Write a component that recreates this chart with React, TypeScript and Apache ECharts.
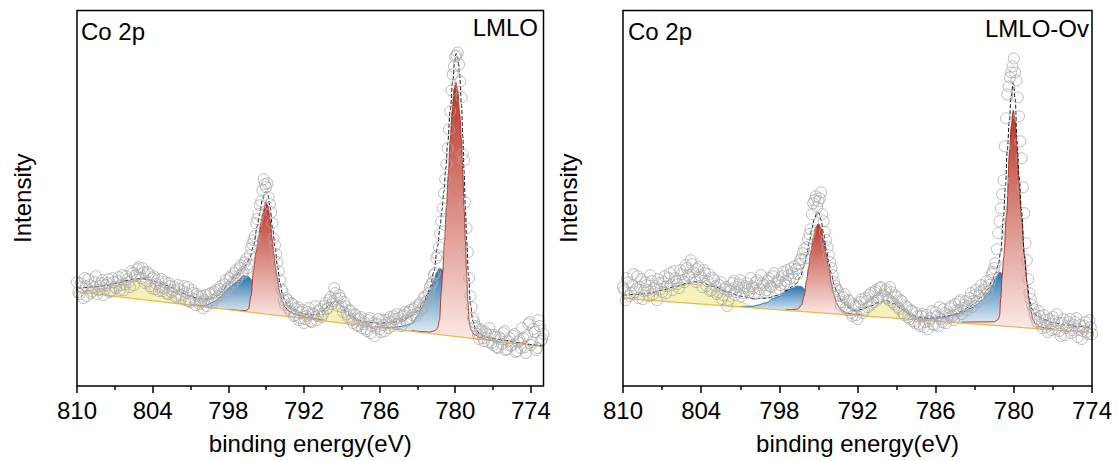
import React, { useEffect, useRef } from "react";
import * as echarts from "echarts";

type Pt = [number, number];

const FONT = '"Liberation Sans", Arial, Helvetica, sans-serif';

const xTickValues = [810, 804, 798, 792, 786, 780, 774];
const xMinorTickValues = [807, 801, 795, 789, 783, 777];
const xAxisTitle = "binding energy(eV)";
const yAxisTitle = "Intensity";

// ---------------- LMLO ----------------
const lmloTitle = "LMLO";
const lmloRange: Pt = [773, 810];
const lmloScanStep = 0.2;
// measured points at 810.0, 809.8, ... 773.0 eV
const lmloScanStart = 810;
const lmloCounts = [
  104, 92, 99, 108, 90, 101, 95, 104, 92, 100,
  106, 97, 103, 94, 108, 99, 105, 96, 111, 102,
  107, 99, 113, 110, 117, 112, 118, 103, 114, 100,
  108, 97, 106, 99, 95, 104, 92, 100, 96, 89,
  101, 91, 95, 86, 99, 84, 93, 81, 90, 84,
  78, 91, 84, 93, 86, 96, 90, 100, 94, 106,
  99, 110, 104, 116, 110, 121, 114, 127, 122, 138,
  146, 163, 172, 185, 207, 199, 189, 174, 148, 132,
  115, 97, 86, 88, 78, 83, 70, 77, 66, 74,
  63, 70, 78, 64, 72, 66, 75, 69, 80, 77,
  86, 82, 98, 87, 91, 79, 84, 72, 76, 66,
  72, 61, 67, 58, 64, 55, 68, 60, 50, 62,
  57, 66, 55, 63, 69, 60, 67, 72, 63, 70,
  74, 66, 76, 71, 79, 73, 83, 78, 90, 86,
  99, 104, 113, 131, 152, 178, 207, 238, 275, 312,
  330, 334, 305, 232, 184, 134, 90, 68, 60, 52,
  57, 48, 54, 44, 51, 41, 49, 38, 47, 53,
  36, 45, 40, 50, 34, 44, 38, 48, 33, 62,
  41, 57, 36, 66, 45, 52,
];
// measured points at 809.9, 809.7, ... 773.1 eV
const lmloScanStartMid = 809.9;
const lmloCountsMid = [
  94, 103, 88, 100, 107, 93, 99, 110, 96, 103,
  91, 101, 107, 95, 104, 98, 109, 101, 96, 110,
  104, 115, 101, 111, 119, 108, 114, 105, 112, 98,
  110, 102, 95, 107, 98, 93, 103, 94, 99, 90,
  97, 88, 100, 93, 85, 96, 87, 92, 82, 90,
  86, 80, 92, 83, 94, 88, 97, 91, 102, 97,
  108, 101, 113, 107, 118, 112, 124, 118, 131, 142,
  150, 167, 181, 196, 202, 203, 182, 163, 141, 124,
  106, 95, 81, 86, 75, 82, 71, 79, 68, 76,
  67, 74, 65, 73, 80, 70, 77, 72, 83, 78,
  89, 85, 93, 80, 88, 74, 80, 69, 75, 63,
  71, 60, 69, 62, 57, 66, 53, 63, 58, 67,
  54, 61, 66, 58, 64, 70, 62, 68, 60, 71,
  65, 74, 68, 77, 70, 81, 76, 88, 84, 93,
  102, 111, 128, 139, 165, 193, 222, 257, 296, 320,
  331, 322, 289, 226, 158, 108, 79, 64, 58, 47,
  55, 45, 52, 58, 43, 51, 39, 49, 42, 55,
  37, 48, 41, 52, 35, 46, 58, 39, 51, 64,
  44, 54, 38, 60, 47,
];
const lmloBackground: Pt[] = [[810, 94.3], [773, 39.3]];
const lmloEnvelope: Pt[] = [
  [810, 98], [809.5, 98.5], [809, 99], [808, 100], [807, 102.5], [806, 105.5], [805.5, 107], [805, 107.5],
  [804.5, 107], [804, 105.5], [803.5, 103.5], [803, 101], [802.5, 98.5], [802, 95.5], [801.5, 92.5], [801, 90],
  [800.5, 88], [800, 87], [799.5, 87], [799, 89], [798.5, 94.5], [798, 102], [797.5, 109.5], [797, 116],
  [796.6, 121], [796.3, 128], [796, 140], [795.7, 160], [795.5, 173], [795.3, 186], [795.1, 194], [795, 194.5],
  [794.85, 191], [794.7, 180], [794.5, 160], [794.3, 140], [794.1, 120], [793.9, 103], [793.7, 92], [793.5, 85],
  [793.2, 80], [792.8, 76.5], [792.3, 73.5], [791.8, 71.5], [791.2, 71], [790.8, 72.5], [790.4, 76], [790, 81],
  [789.6, 84.5], [789.3, 84], [789, 80], [788.6, 74], [788.2, 69], [787.6, 65.5], [787, 64], [786, 63],
  [785, 63.5], [784.5, 65], [784, 67], [783.5, 70], [783, 75], [782.5, 85], [782.2, 92], [782, 99],
  [781.7, 114], [781.4, 140], [781.2, 160], [781.06, 176], [780.9, 195], [780.75, 218], [780.6, 243], [780.4, 276],
  [780.2, 305], [780.05, 325], [779.93, 333], [779.8, 328], [779.66, 313], [779.5, 281], [779.4, 250], [779.3, 215],
  [779.2, 180], [779.1, 146], [778.95, 112], [778.8, 82], [778.6, 65], [778.4, 57], [778, 51.5], [777.5, 49],
  [777, 47.5], [776, 45.5], [775, 43.5], [774, 41.5], [773, 40],
];
const lmloSatelliteHigh: Pt[] = [
  [810, 95.2], [809, 95.4], [808, 97.4], [807, 100.9], [806, 104.4], [805, 104.9], [804, 101.4],
  [803, 95.0], [802, 88.5], [801, 83.5], [800, 80.3], [799, 78.2],
];
const lmloSatelliteLow: Pt[] = [
  [791.2, 66.5], [790.8, 67.5], [790.5, 70], [790.2, 75], [789.9, 79], [789.6, 81.5], [789.4, 81.3],
  [789.1, 77.5], [788.8, 72.5], [788.5, 67.5], [788.2, 64.3], [787.8, 62.2], [787.3, 60.9],
];
const lmloShoulderHigh: Pt[] = [
  [801, 81.4], [800, 80.6], [799.7, 81], [799.2, 84], [798.6, 89.3], [798.2, 95], [797.85, 99.3],
  [797.5, 103], [797.2, 106], [796.8, 110.5], [796.5, 110], [796, 105], [795.5, 96], [795, 84],
  [794.5, 77], [794, 72], [793.5, 70],
];
const lmloMainHigh: Pt[] = [
  [798, 76.9], [797, 75.7], [796.6, 75.5], [796.4, 77], [796.2, 90], [796, 116], [795.8, 134], [795.6, 149],
  [795.4, 164], [795.25, 173], [795.1, 181], [795, 184], [794.85, 180], [794.67, 166], [794.5, 146],
  [794.4, 133], [794.25, 118], [794.14, 109], [793.9, 93], [793.7, 85], [793.5, 79], [793.2, 75],
  [792.8, 72.7], [792.3, 70.5], [791.5, 68], [790.5, 65.8],
];
const lmloShoulderLow: Pt[] = [
  [786.5, 59.6], [785.5, 58.6], [784.8, 58.8], [784.2, 60], [783.8, 61.3], [783.4, 63], [783, 70],
  [782.65, 78.5], [782.3, 87], [781.98, 96], [781.7, 106], [781.45, 114], [781.3, 117.5], [781.1, 117],
  [780.8, 111], [780.5, 101], [780.2, 89], [779.8, 75], [779.4, 63], [779, 55.5], [778.6, 51], [778.2, 48],
];
const lmloMainLow: Pt[] = [
  [783.5, 55.5], [782.5, 54.5], [782, 54], [781.6, 55.5], [781.4, 58], [781.25, 66], [781.1, 95], [781, 113],
  [780.85, 145], [780.7, 179], [780.55, 212], [780.4, 246], [780.25, 275], [780.1, 297], [779.95, 304],
  [779.8, 296], [779.65, 273], [779.5, 246], [779.4, 213], [779.3, 179], [779.2, 146], [779.1, 113],
  [779, 85], [778.9, 65], [778.75, 56], [778.5, 51.5], [778, 48.5], [777.5, 46.5], [777, 45.5],
];

// ---------------- LMLO-Ov ----------------
const ovTitle = "LMLO-Ov";
const ovRange: Pt = [774, 810];
const ovScanStep = 0.2;
// measured points at 810.0, 809.8, ... 774.0 eV
const ovScanStart = 810;
const ovCounts = [
  99, 86, 104, 93, 112, 97, 88, 107, 95, 101,
  90, 105, 98, 86, 103, 94, 110, 100, 113, 96,
  108, 102, 116, 106, 121, 111, 126, 114, 104, 119,
  109, 116, 100, 112, 96, 106, 92, 101, 87, 97,
  80, 95, 103, 91, 99, 106, 93, 100, 96, 108,
  98, 104, 93, 111, 101, 96, 108, 99, 113, 104,
  97, 110, 102, 116, 107, 113, 120, 112, 126, 133,
  128, 147, 157, 183, 190, 185, 194, 165, 146, 131,
  118, 104, 97, 90, 84, 92, 76, 85, 70, 80,
  67, 84, 73, 88, 79, 93, 84, 96, 88, 99,
  91, 97, 86, 94, 82, 89, 77, 85, 71, 79,
  67, 75, 63, 70, 60, 72, 64, 57, 68, 62,
  74, 60, 67, 77, 63, 71, 80, 66, 76, 84,
  72, 81, 76, 88, 79, 91, 84, 94, 88, 99,
  94, 106, 114, 123, 153, 178, 206, 268, 300, 314,
  328, 306, 270, 228, 173, 126, 93, 81, 72, 64,
  70, 58, 66, 54, 62, 69, 57, 63, 50, 67,
  58, 64, 53, 61, 68, 56, 47, 60, 54, 66,
  52,
];
// measured points at 809.9, 809.7, ... 774.1 eV
const ovScanStartMid = 809.9;
const ovCountsMid = [
  96, 108, 90, 101, 94, 110, 99, 87, 104, 96,
  111, 92, 100, 107, 97, 104, 93, 108, 101, 115,
  105, 98, 112, 104, 118, 109, 122, 107, 117, 111,
  99, 113, 105, 95, 108, 100, 94, 104, 91, 99,
  86, 97, 105, 94, 102, 90, 98, 103, 94, 100,
  92, 106, 97, 103, 94, 105, 100, 110, 95, 106,
  101, 114, 105, 111, 118, 108, 117, 122, 127, 137,
  139, 152, 172, 186, 179, 188, 172, 154, 139, 124,
  111, 100, 95, 81, 89, 78, 86, 73, 82, 71,
  80, 87, 76, 85, 91, 82, 94, 86, 98, 90,
  95, 88, 99, 84, 91, 79, 86, 73, 80, 69,
  76, 65, 73, 62, 70, 59, 71, 65, 75, 61,
  70, 79, 64, 73, 68, 78, 70, 82, 75, 86,
  78, 85, 80, 93, 85, 96, 90, 101, 96, 105,
  101, 112, 118, 137, 165, 192, 240, 292, 309, 320,
  314, 289, 245, 199, 143, 107, 87, 77, 68, 75,
  62, 71, 59, 67, 56, 65, 72, 55, 63, 51,
  60, 67, 56, 64, 49, 61, 55, 64, 52, 59,
];
const ovBackground: Pt[] = [[810, 87.7], [774, 53.5]];
const ovEnvelope: Pt[] = [
  [810, 91], [809, 91.5], [808, 93], [807, 96], [806, 99.5], [805, 103], [804.5, 104.3], [804, 103.5],
  [803, 99.5], [802, 94.5], [801, 90], [800, 87.5], [799, 88], [798, 91], [797.5, 95.5], [797, 99.5],
  [796.7, 102.5], [796.4, 109], [796.1, 120], [795.9, 131], [795.7, 144], [795.5, 158], [795.3, 168],
  [795.1, 174], [794.95, 173], [794.8, 166], [794.6, 153], [794.4, 137], [794.2, 124], [794, 112],
  [793.8, 102], [793.6, 95], [793.2, 85], [792.7, 78.5], [792.2, 75.5], [791.7, 76.5], [791, 80],
  [790.4, 83.5], [789.8, 85.5], [789.2, 82.5], [788.6, 77], [788, 72], [787.3, 69], [786.5, 68],
  [785.5, 69.5], [785, 70.5], [784.5, 72], [784, 75], [783.5, 78.5], [783, 83], [782.5, 89], [782, 97],
  [781.7, 104.5], [781.4, 113], [781.2, 121], [781, 135], [780.8, 168], [780.65, 200], [780.5, 236],
  [780.35, 265], [780.2, 290], [780.05, 303.7], [779.9, 288], [779.75, 245], [779.6, 210], [779.4, 174],
  [779.2, 132], [779, 105], [778.8, 86], [778.6, 77], [778.3, 71], [777.7, 66.5], [777, 63.5], [776, 61],
  [775, 59.5], [774, 58.5],
];
const ovSatelliteHigh: Pt[] = [
  [810, 88.5], [809, 89.0], [808, 91.3], [807, 95.3], [806, 100], [805, 102.5], [804.6, 102.6], [804, 101.2],
  [803, 96], [802, 89.5], [801, 83.9], [800, 80.1], [799, 77.9], [798, 76.4],
];
const ovSatelliteLow: Pt[] = [
  [792, 71.6], [791.5, 73.1], [791, 76.6], [790.5, 81.2], [790.2, 83.5], [789.8, 84.5], [789.4, 82.7],
  [789.1, 79.8], [788.6, 74.3], [788.1, 69.9], [787.6, 67.4], [787.1, 66.1],
];
const ovShoulderHigh: Pt[] = [
  [801, 79.6], [800, 79.8], [799.7, 81], [799, 83.3], [798.45, 87.7], [798, 89.8], [797.4, 96], [797, 97.9],
  [796.65, 100], [796.3, 99.5], [796, 96.4], [795.5, 90], [795, 82.5], [794.5, 77], [794, 74], [793.5, 72],
];
const ovMainHigh: Pt[] = [
  [797.5, 76.6], [797, 76.5], [796.6, 77], [796.3, 81], [796.1, 90], [795.9, 106], [795.76, 118], [795.6, 133],
  [795.4, 148], [795.2, 159], [795, 162.7], [794.8, 158], [794.6, 146], [794.4, 132], [794.2, 118], [794, 103],
  [793.8, 91], [793.6, 83], [793.4, 78.5], [793.2, 75.5], [792.8, 73], [792.3, 71.9], [791.5, 70.6],
];
const ovShoulderLow: Pt[] = [
  [788, 66.8], [787, 67], [786, 67.6], [785.3, 69], [784.6, 71], [784, 73.5], [783.35, 77.5], [782.9, 81],
  [782.45, 86], [782, 93], [781.7, 100], [781.4, 108], [781.1, 114], [780.8, 112], [780.4, 102], [780, 88],
  [779.5, 74], [779, 65], [778.5, 59.5], [778, 57.5],
];
const ovMainLow: Pt[] = [
  [784, 64], [783, 64.1], [782, 64.2], [781.5, 64.3], [781.2, 66.5], [781.1, 70], [781, 88], [780.9, 110],
  [780.78, 129], [780.57, 170], [780.32, 236], [780.2, 260], [780.04, 276], [779.9, 265], [779.75, 236],
  [779.6, 203], [779.42, 170], [779.16, 129], [778.98, 102.7], [778.85, 88], [778.73, 76], [778.5, 66],
  [778.35, 62.7], [778, 59.5], [777.5, 58], [777, 57.2],
];

const Y_MAX = 376;

function scan(start: number, step: number, counts: number[]): Pt[] {
  return counts.map((v, i) => [Math.round((start - i * step) * 100) / 100, v] as Pt);
}

function fillSeries(data: Pt[], xi: number, yi: number, kind: "red" | "blue" | "yellow", z: number) {
  const vals = data.map((d) => d[1]);
  const top = Math.max(...vals);
  const base = Math.min(...vals);
  const frac = Math.min(0.98, Math.max(0.05, (top - base) / top));
  let areaStyle: any;
  let lineStyle: any;
  if (kind === "yellow") {
    areaStyle = { origin: "start", color: "rgba(242,238,166,0.8)", opacity: 1 };
    lineStyle = { color: "#e2d88a", width: 0.8 };
  } else {
    const c = kind === "red" ? ["#bc3527", "#fbe9e6", "#a52d20"] : ["#2a74b0", "#eef4fa", "#2e6ea7"];
    areaStyle = {
      origin: "start",
      opacity: 1,
      color: new echarts.graphic.LinearGradient(0, 0, 0, 1, [
        { offset: 0, color: c[0] },
        { offset: frac, color: c[1] },
        { offset: 1, color: c[1] },
      ]),
    };
    lineStyle = { color: c[2], width: 0.9 };
  }
  return {
    type: "line",
    data,
    xAxisIndex: xi,
    yAxisIndex: yi,
    smooth: 0.35,
    smoothMonotone: "x",
    symbol: "none",
    showSymbol: false,
    silent: true,
    lineStyle,
    areaStyle,
    z,
  };
}

function panelSeries(p: number, d: any) {
  const xi = p * 2;
  const yi = p;
  return [
    fillSeries(d.satHigh, xi, yi, "yellow", 2),
    fillSeries(d.satLow, xi, yi, "yellow", 2),
    fillSeries(d.shoulderHigh, xi, yi, "blue", 3),
    fillSeries(d.shoulderLow, xi, yi, "blue", 3),
    fillSeries(d.mainHigh, xi, yi, "red", 4),
    fillSeries(d.mainLow, xi, yi, "red", 4),
    {
      type: "line", data: d.bg, xAxisIndex: xi, yAxisIndex: yi, symbol: "none", silent: true,
      lineStyle: { opacity: 0, width: 0 }, areaStyle: { origin: "start", color: "#ffffff", opacity: 1 }, z: 5,
    },
    {
      type: "line", data: d.bg, xAxisIndex: xi, yAxisIndex: yi, symbol: "none", silent: true,
      lineStyle: { color: "#eeb548", width: 1.2 }, z: 6,
    },
    {
      type: "line", data: d.envelope, xAxisIndex: xi, yAxisIndex: yi, symbol: "none", silent: true,
      smooth: 0.35, smoothMonotone: "x",
      lineStyle: { color: "#1a1a1a", width: 1, type: [4, 2] }, z: 7,
    },
    {
      type: "scatter", data: d.points, xAxisIndex: xi, yAxisIndex: yi, symbol: "circle", symbolSize: 11, silent: true,
      itemStyle: { color: "rgba(0,0,0,0)", borderColor: "#ababab", borderWidth: 1 }, z: 8,
    },
  ];
}

function xAxes(gi: number, range: Pt) {
  const common = { type: "value", gridIndex: gi, min: range[0], max: range[1], inverse: true, position: "bottom", splitLine: { show: false } };
  return [
    {
      ...common,
      axisLine: { show: false },
      axisTick: { show: true, customValues: xTickValues, length: 7, inside: false, lineStyle: { color: "#000", width: 1.5 } },
      axisLabel: { customValues: xTickValues, fontSize: 24, fontFamily: FONT, color: "#000", margin: 12 },
      name: xAxisTitle,
      nameLocation: "middle",
      nameGap: 45,
      nameMoveOverlap: false,
      nameTextStyle: { fontSize: 24, fontFamily: FONT, color: "#000" },
      z: 21,
    },
    {
      ...common,
      axisLine: { show: false },
      axisTick: { show: true, customValues: xMinorTickValues, length: 4, inside: false, lineStyle: { color: "#000", width: 1.5 } },
      axisLabel: { show: false },
      z: 21,
    },
  ];
}

function yAxis(gi: number) {
  return {
    type: "value", gridIndex: gi, min: 0, max: Y_MAX,
    axisLine: { show: false }, axisTick: { show: false }, axisLabel: { show: false }, splitLine: { show: false },
    name: yAxisTitle, nameLocation: "middle", nameGap: 42.5, nameMoveOverlap: false,
    nameTextStyle: { fontSize: 24, fontFamily: FONT, color: "#000" },
  };
}

export default function App() {
  const ref = useRef<HTMLDivElement>(null);
  useEffect(() => {
    if (!ref.current) return;
    const chart = echarts.init(ref.current, null, { renderer: "svg" });
    const lmlo = {
      points: [...scan(lmloScanStart, lmloScanStep, lmloCounts), ...scan(lmloScanStartMid, lmloScanStep, lmloCountsMid)],
      bg: lmloBackground, envelope: lmloEnvelope,
      satHigh: lmloSatelliteHigh, satLow: lmloSatelliteLow, shoulderHigh: lmloShoulderHigh,
      shoulderLow: lmloShoulderLow, mainHigh: lmloMainHigh, mainLow: lmloMainLow,
    };
    const ov = {
      points: [...scan(ovScanStart, ovScanStep, ovCounts), ...scan(ovScanStartMid, ovScanStep, ovCountsMid)],
      bg: ovBackground, envelope: ovEnvelope,
      satHigh: ovSatelliteHigh, satLow: ovSatelliteLow, shoulderHigh: ovShoulderHigh,
      shoulderLow: ovShoulderLow, mainHigh: ovMainHigh, mainLow: ovMainLow,
    };
    const gridCommon = { show: true, borderColor: "#000", borderWidth: 1.5, backgroundColor: "transparent", z: 20, containLabel: false, outerBoundsMode: "none" };
    const textStyle = (text: string, align: string) => ({ text, fontSize: 24, fontFamily: FONT, fill: "#000", align, verticalAlign: "middle" });
    chart.setOption({
      animation: false,
      backgroundColor: "#ffffff",
      grid: [
        { ...gridCommon, left: 77, top: 10.5, width: 466.5, height: 375.5 },
        { ...gridCommon, left: 623, top: 10.5, width: 469, height: 375.5 },
      ],
      xAxis: [...xAxes(0, lmloRange), ...xAxes(1, ovRange)],
      yAxis: [yAxis(0), yAxis(1)],
      series: [...panelSeries(0, lmlo), ...panelSeries(1, ov)],
      graphic: [
        { type: "text", x: 81, y: 31, z: 30, style: textStyle("Co 2p", "left") },
        { type: "text", x: 538, y: 27.5, z: 30, style: textStyle(lmloTitle, "right") },
        { type: "text", x: 628, y: 31, z: 30, style: textStyle("Co 2p", "left") },
        { type: "text", x: 1089, y: 28, z: 30, style: textStyle(ovTitle, "right") },
      ],
    });
    return () => chart.dispose();
  }, []);
  return <div ref={ref} style={{ position: "absolute", left: 0, top: 0, width: 1118, height: 461 }} />;
}
